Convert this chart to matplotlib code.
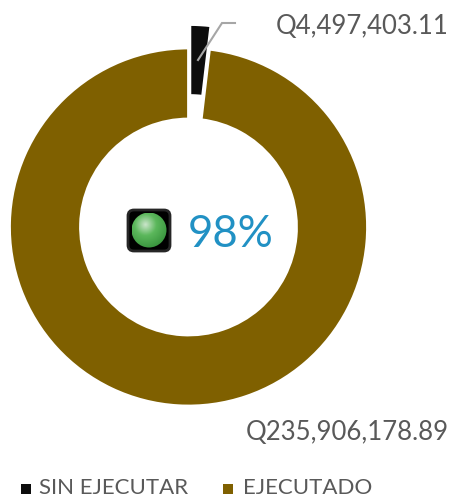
import numpy as np
import matplotlib
matplotlib.use("Agg")
import matplotlib.pyplot as plt
from matplotlib.patches import FancyBboxPatch, Circle

W, H = 454, 499

# datos
categorias = ["SIN EJECUTAR", "EJECUTADO"]
valores = [4497403.11, 235906178.89]
porcentaje = "98%"

colores = ["#0D0D0D", "#7F6000"]
gris_texto = "#595959"

plt.rcParams["font.family"] = ["Lato", "DejaVu Sans"]

fig = plt.figure(figsize=(W / 100, H / 100), dpi=100)
ax = fig.add_axes([0, 0, 1, 1])


def py(y):
    # y en pixeles desde arriba
    return H - y


# anillo (explode va en unidades de datos, aqui pixeles)
ax.pie(valores, colors=colores, startangle=90, counterclock=False,
       center=(188.5, py(227)), radius=179, explode=[23.5, 0],
       wedgeprops=dict(width=71, linewidth=2, edgecolor="white"), frame=False)
ax.set_xlim(0, W)
ax.set_ylim(0, H)
ax.set_aspect("equal")
ax.axis("off")

# linea guia
ax.plot([198, 222, 235], [py(60), py(23), py(23)], color="#A6A6A6", lw=1.5,
        solid_joinstyle="miter", zorder=5)

# etiquetas de valores
ax.text(449, py(26), "Q{:,.2f}".format(valores[0]), ha="right", va="center",
        fontsize=18.5, color=gris_texto)
ax.text(449, py(433), "Q{:,.2f}".format(valores[1]), ha="right", va="center",
        fontsize=18.5, color=gris_texto)

# porcentaje central
ax.text(188, py(234), porcentaje, ha="left", va="center", fontsize=31.5, color="#2191C4")

# semaforo
ax.add_patch(FancyBboxPatch((128, py(251)), 42, 41, boxstyle="round,pad=0,rounding_size=6",
                            fc="black", ec="#262626", lw=2, zorder=3))
cx, cy, r = 149, py(230), 17.5
xx, yy = np.meshgrid(np.linspace(cx - r, cx + r, 80), np.linspace(cy - r, cy + r, 80))
d = np.hypot(xx - (cx - 4), yy - (cy + 6)) / (1.4 * r)
d = np.clip(d, 0, 1)
c0 = np.array([0.80, 0.90, 0.80])
c1 = np.array([0.36, 0.72, 0.36])
c2 = np.array([0.22, 0.58, 0.24])
t = d[..., None]
img = np.where(t < 0.45, c0 + (c1 - c0) * t / 0.45, c1 + (c2 - c1) * (t - 0.45) / 0.55)
im = ax.imshow(img, extent=(cx - r, cx + r, cy - r, cy + r), origin="lower", zorder=4,
               interpolation="bilinear")
im.set_clip_path(Circle((cx, cy), r, transform=ax.transData))
ax.set_xlim(0, W)
ax.set_ylim(0, H)

# leyenda
ley_x = [25.5, 227.5]
txt_x = [39, 243]
for i in range(len(categorias)):
    ax.scatter(ley_x[i], py(489), marker="s", s=57, color=colores[i], linewidths=0)
    ax.text(txt_x[i], py(488), categorias[i], ha="left", va="center", fontsize=16,
            color=gris_texto)

fig.savefig("out.png", dpi=100)
